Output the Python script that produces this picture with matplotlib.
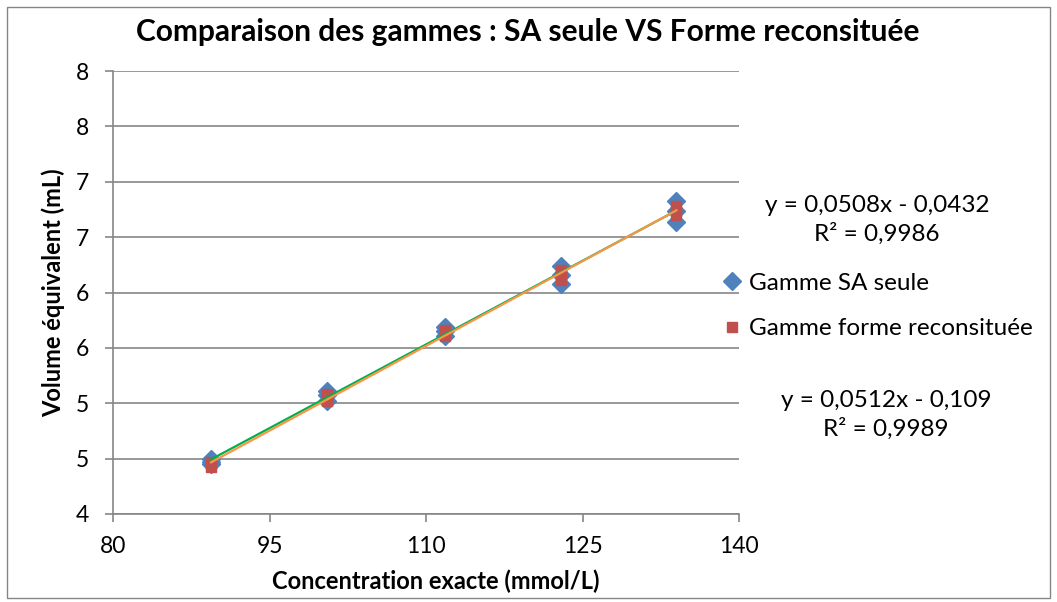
import matplotlib.pyplot as plt
from matplotlib.patches import Rectangle
from matplotlib.ticker import FixedLocator, FixedFormatter
import numpy as np

plt.rcParams.update({'font.family': ['Lato', 'DejaVu Sans'], 'font.size': 16.5})

blue = '#4F81BD'
red = '#C0504D'
green = '#00B050'
orange = '#F79646'
grid_grey = '#868686'

# concentrations (3 replicates per level)
conc = [89.4, 89.4, 89.4, 100.5, 100.5, 100.5, 111.8, 111.8, 111.8,
        122.9, 122.9, 122.9, 134.0, 134.0, 134.0]
vol_sa = [4.45, 4.47, 4.50, 5.02, 5.07, 5.11, 5.61, 5.65, 5.69,
          6.08, 6.16, 6.24, 6.64, 6.74, 6.83]
vol_reconst = [4.42, 4.45, 4.47, 5.02, 5.05, 5.08, 5.61, 5.63, 5.66,
               6.11, 6.16, 6.20, 6.70, 6.74, 6.78]

labels = ['Gamme SA seule', 'Gamme forme reconsituée']
eq_sa = 'y = 0,0508x - 0,0432\nR² = 0,9986'
eq_reconst = 'y = 0,0512x - 0,109\nR² = 0,9989'

x_ticks = [80, 95, 110, 125, 140]
y_ticks = [4, 4.5, 5, 5.5, 6, 6.5, 7, 7.5, 8]
# Excel rounds the y labels to integers
y_tick_labels = ['4', '5', '5', '6', '6', '7', '7', '8', '8']


def trend(ax, x, y, color):
    '''Least squares line drawn between min and max x.'''
    a, b = np.polyfit(x, y, 1)
    xs = np.array([min(x), max(x)])
    ax.plot(xs, a * xs + b, color=color, lw=1.6, zorder=4)


fig = plt.figure(figsize=(10.57, 6.02), dpi=100)
ax = fig.add_axes([113 / 1057, 1 - 514 / 602, (739 - 113) / 1057, (514 - 71) / 602])

ax.plot(conc, vol_sa, ls='none', marker='D', ms=9.5, color=blue, mec=blue, label=labels[0], zorder=3)
ax.plot(conc, vol_reconst, ls='none', marker='s', ms=7, color=red, mec=red, label=labels[1], zorder=3)
trend(ax, conc, vol_sa, green)
trend(ax, conc, vol_reconst, orange)

ax.set_xlim(80, 140)
ax.set_ylim(4, 8)
ax.xaxis.set_major_locator(FixedLocator(x_ticks))
ax.yaxis.set_major_locator(FixedLocator(y_ticks))
ax.yaxis.set_major_formatter(FixedFormatter(y_tick_labels))
ax.tick_params(axis='both', colors=grid_grey, labelcolor='black', length=6, width=1.2)
ax.tick_params(axis='x', pad=10)
ax.tick_params(axis='y', pad=11)
ax.grid(axis='y', color=grid_grey, lw=1.2)
ax.set_axisbelow(True)
for side in ['top', 'right']:
    ax.spines[side].set_visible(False)
for side in ['left', 'bottom']:
    ax.spines[side].set_color(grid_grey)
    ax.spines[side].set_linewidth(1.2)

ax.set_xlabel('Concentration exacte (mmol/L)', fontweight='bold', fontsize=17)
ax.set_ylabel('Volume équivalent (mL)', fontweight='bold', fontsize=17)
ax.xaxis.set_label_coords(0.516, -(570 - 514) / 443)
ax.yaxis.set_label_coords((65 - 113) / 626, 0.5)
fig.text(528 / 1057, 1 - 32 / 602, 'Comparaison des gammes : SA seule VS Forme reconsituée',
         ha='center', va='center', fontweight='bold', fontsize=21.5)

ax.legend(loc='center left', bbox_to_anchor=(722 / 1057, 1 - 306 / 602), bbox_transform=fig.transFigure,
          frameon=False, fontsize=17.5, handlelength=0.8, handletextpad=0.3, labelspacing=1.0,
          borderpad=0, borderaxespad=0)

fig.text(877 / 1057, 1 - 220 / 602, eq_sa, ha='center', va='center', fontsize=17.5, linespacing=1.33)
fig.text(886 / 1057, 1 - 415 / 602, eq_reconst, ha='center', va='center', fontsize=17.5, linespacing=1.33)

# chart border
fig.patches.append(Rectangle((7 / 1057, 4 / 602), 1043 / 1057, 591 / 602, transform=fig.transFigure,
                             fill=False, edgecolor=grid_grey, lw=1))

fig.savefig('out.png', dpi=100)
